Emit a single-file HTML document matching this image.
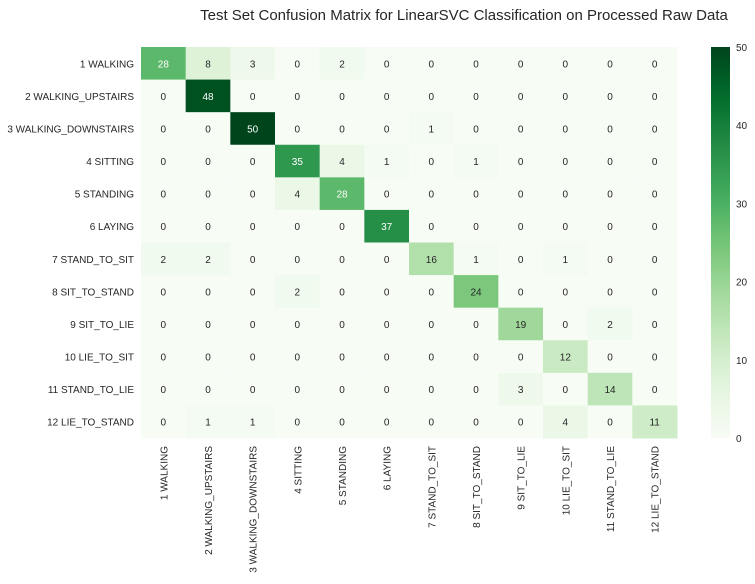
<!DOCTYPE html>
<html><head><meta charset="utf-8"><style>
body{margin:0;background:#fff;}
svg text{font-family:"Liberation Sans",sans-serif;}
</style></head><body>
<svg id="c" width="755" height="579" xmlns="http://www.w3.org/2000/svg">
<text x="464" y="20" font-size="15" text-anchor="middle" fill="#262626">Test Set Confusion Matrix for LinearSVC Classification on Processed Raw Data</text>
<g id="cells"></g>
<g id="cbar"></g>
</svg>
<script>
const labels=["1 WALKING","2 WALKING_UPSTAIRS","3 WALKING_DOWNSTAIRS","4 SITTING","5 STANDING","6 LAYING","7 STAND_TO_SIT","8 SIT_TO_STAND","9 SIT_TO_LIE","10 LIE_TO_SIT","11 STAND_TO_LIE","12 LIE_TO_STAND"];
const matrix=[
[28,8,3,0,2,0,0,0,0,0,0,0],
[0,48,0,0,0,0,0,0,0,0,0,0],
[0,0,50,0,0,0,1,0,0,0,0,0],
[0,0,0,35,4,1,0,1,0,0,0,0],
[0,0,0,4,28,0,0,0,0,0,0,0],
[0,0,0,0,0,37,0,0,0,0,0,0],
[2,2,0,0,0,0,16,1,0,1,0,0],
[0,0,0,2,0,0,0,24,0,0,0,0],
[0,0,0,0,0,0,0,0,19,0,2,0],
[0,0,0,0,0,0,0,0,0,12,0,0],
[0,0,0,0,0,0,0,0,3,0,14,0],
[0,1,1,0,0,0,0,0,0,4,0,11]];
const cbTicks=[0,10,20,30,40,50];
const vmin=0,vmax=50;
const X0=141,Y0=47,W=536,H=391;
const cw=W/labels.length,ch=H/labels.length;
const stops=["#f7fcf5","#e5f5e0","#c7e9c0","#a1d99b","#74c476","#41ab5d","#238b45","#006d2c","#00441b"].map(h=>[1,3,5].map(i=>parseInt(h.substr(i,2),16)));
function cmap(v){let t=Math.max(0,Math.min(1,(v-vmin)/(vmax-vmin)))*(stops.length-1);let i=Math.min(Math.floor(t),stops.length-2),f=t-i;
 return stops[i].map((c,k)=>Math.round(c+(stops[i+1][k]-c)*f));}
function lum(c){const l=c.map(x=>{x/=255;return x<=0.03928?x/12.92:Math.pow((x+0.055)/1.055,2.4)});return 0.2126*l[0]+0.7152*l[1]+0.0722*l[2];}
const NS="http://www.w3.org/2000/svg";
function el(t,a,p){const e=document.createElementNS(NS,t);for(const k in a)e.setAttribute(k,a[k]);p.appendChild(e);return e;}
const g=document.getElementById('cells');
matrix.forEach((row,r)=>row.forEach((v,c)=>{
 const col=cmap(v);
 const rc=el('rect',{x:X0+c*cw,y:Y0+r*ch,width:cw+0.5,height:ch+0.5,fill:`rgb(${col})`},g);
 
 
 const tx=el('text',{x:X0+(c+0.5)*cw,y:Y0+(r+0.5)*ch+4,'font-size':10,'text-anchor':'middle',fill:lum(col)>0.408?'#262626':'#ffffff'},g);
 tx.textContent=v;
 
 
}));
labels.forEach((l,i)=>{
 const y=el('text',{x:X0-7,y:Y0+(i+0.5)*ch+4,'font-size':10,'text-anchor':'end',fill:'#262626'},g);
 y.textContent=l;
 
 
 const cx=X0+(i+0.5)*cw+4,cy=Y0+H+8;
 const x=el('text',{x:cx,y:cy,'font-size':10,'text-anchor':'end',fill:'#262626',transform:`rotate(-90 ${cx} ${cy})`},g);
 x.textContent=l;
 
 
});
const cb=document.getElementById('cbar');
const CX=711,CW=19;
const defs=el('defs',{},cb);
const lg=el('linearGradient',{id:'gr',x1:0,y1:1,x2:0,y2:0},defs);
for(let i=0;i<=20;i++){el('stop',{offset:i/20,'stop-color':`rgb(${cmap(vmin+(vmax-vmin)*i/20)})`},lg);}
const bar=el('rect',{x:CX,y:Y0,width:CW,height:H,fill:'url(#gr)'},cb);


cbTicks.forEach(t=>{
 const y=Y0+H-(t-vmin)/(vmax-vmin)*H;
 const tt=el('text',{x:CX+CW+6,y:y+4,'font-size':10,fill:'#262626'},cb);
 tt.textContent=t;
 
 
});
</script>
</body></html>
